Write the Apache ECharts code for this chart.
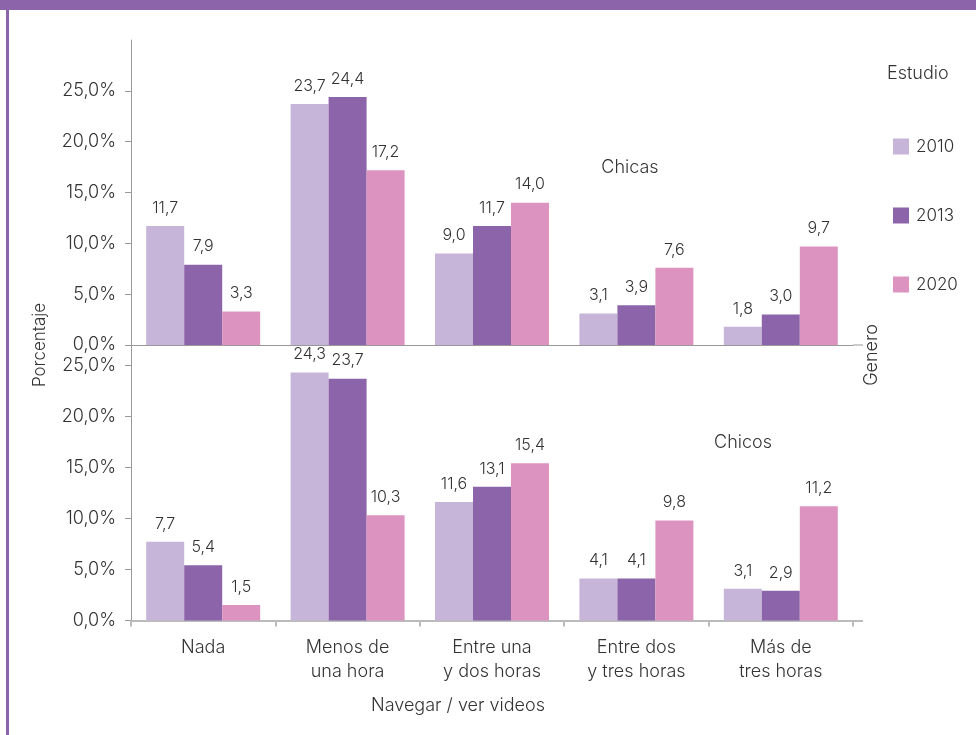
<!DOCTYPE html>
<html>
<head>
<meta charset="utf-8">
<script src="https://cdn.jsdelivr.net/npm/echarts@6/dist/echarts.min.js"></script>
<style>
html,body{margin:0;padding:0;background:#fff;}
#chart{width:976px;height:735px;}
</style>
</head>
<body>
<div id="chart"></div>
<script>
const categories = ['Nada', 'Menos de\nuna hora', 'Entre una\ny dos horas', 'Entre dos\ny tres horas', 'Más de\ntres horas'];
const years = ['2010', '2013', '2020'];
const chicas2010 = [11.7, 23.7, 9.0, 3.1, 1.8];
const chicas2013 = [7.9, 24.4, 11.7, 3.9, 3.0];
const chicas2020 = [3.3, 17.2, 14.0, 7.6, 9.7];
const chicos2010 = [7.7, 24.3, 11.6, 4.1, 3.1];
const chicos2013 = [5.4, 23.7, 13.1, 4.1, 2.9];
const chicos2020 = [1.5, 10.3, 15.4, 9.8, 11.2];
const yTicks = [0, 5, 10, 15, 20, 25];

const colors = ['#c7b5d9', '#8c64aa', '#dd93bf'];
const FONT = 'Inter';
const W = 300;
const TXT = '#333';

const chart = echarts.init(document.getElementById('chart'), null, {renderer: 'canvas'});

function fmt(v) { return v.toFixed(1).replace('.', ','); }

function barSeries(name, data, idx, color) {
  return {
    name: name, type: 'bar', data: data,
    xAxisIndex: idx, yAxisIndex: idx,
    barWidth: 38, barGap: '0%',
    itemStyle: {color: color},
    label: {
      show: true, position: 'top', distance: 10,
      fontFamily: FONT, fontWeight: W, fontSize: 16, color: TXT,
      formatter: p => fmt(p.value)
    }
  };
}

function yAxis(idx, max) {
  return {
    type: 'value', gridIndex: idx, min: 0, max: max, interval: 5,
    splitLine: {show: false},
    axisLine: {show: true, lineStyle: {color: '#999', width: 1}},
    axisTick: {show: true, length: 6, lineStyle: {color: '#999'}, customValues: yTicks},
    axisLabel: {
      fontFamily: FONT, fontWeight: W, fontSize: 18, color: TXT, margin: 15,
      customValues: yTicks,
      formatter: v => fmt(v) + '%'
    }
  };
}

const option = {
  backgroundColor: '#fff',
  animation: false,
  grid: [
    {left: 131, top: 40, width: 722, height: 305},
    {left: 131, top: 345, width: 722, height: 275.4}
  ],
  legend: {
    data: years,
    orient: 'vertical',
    left: 888, top: 133,
    itemWidth: 16, itemHeight: 16, itemGap: 52,
    icon: 'rect',
    textStyle: {fontFamily: FONT, fontWeight: W, fontSize: 17, color: TXT, padding: [0, 0, 0, 2]},
    selectedMode: false
  },
  xAxis: [
    {
      type: 'category', gridIndex: 0, data: categories,
      axisLine: {show: true, lineStyle: {color: '#999', width: 1}},
      axisTick: {show: false}, axisLabel: {show: false}
    },
    {
      type: 'category', gridIndex: 1, data: categories,
      axisLine: {show: true, lineStyle: {color: '#bbb', width: 2}},
      axisTick: {show: true, length: 6, lineStyle: {color: '#bbb', width: 2}},
      axisLabel: {fontFamily: FONT, fontWeight: W, fontSize: 18, color: TXT, margin: 15, lineHeight: 24}
    }
  ],
  yAxis: [yAxis(0, 30), yAxis(1, 27)],
  series: [
    barSeries(years[0], chicas2010, 0, colors[0]),
    barSeries(years[1], chicas2013, 0, colors[1]),
    barSeries(years[2], chicas2020, 0, colors[2]),
    barSeries(years[0], chicos2010, 1, colors[0]),
    barSeries(years[1], chicos2013, 1, colors[1]),
    barSeries(years[2], chicos2020, 1, colors[2])
  ],
  graphic: [
    {type: 'rect', shape: {x: 0, y: 0, width: 976, height: 10}, style: {fill: '#8c64aa'}},
    {type: 'rect', shape: {x: 6, y: 0, width: 3, height: 735}, style: {fill: '#8c64aa'}},
    {type: 'line', shape: {x1: 853, y1: 345, x2: 863, y2: 345}, style: {stroke: '#999', lineWidth: 1}},
    {type: 'line', shape: {x1: 853, y1: 621, x2: 863, y2: 621}, style: {stroke: '#bbb', lineWidth: 2}},
    {type: 'text', x: 887, y: 74, style: {text: 'Estudio', font: W + ' 18px ' + FONT, fill: TXT, verticalAlign: 'middle'}},
    {type: 'text', x: 40, y: 345, rotation: Math.PI / 2, style: {text: 'Porcentaje', font: W + ' 17px ' + FONT, fill: TXT, align: 'center', verticalAlign: 'middle'}},
    {type: 'text', x: 872, y: 355, rotation: Math.PI / 2, style: {text: 'Genero', font: W + ' 18px ' + FONT, fill: TXT, align: 'center', verticalAlign: 'middle'}},
    {type: 'text', x: 630, y: 168, style: {text: 'Chicas', font: W + ' 18px ' + FONT, fill: TXT, align: 'center', verticalAlign: 'middle'}},
    {type: 'text', x: 743, y: 443, style: {text: 'Chicos', font: W + ' 18px ' + FONT, fill: TXT, align: 'center', verticalAlign: 'middle'}},
    {type: 'text', x: 458, y: 706, style: {text: 'Navegar / ver videos', font: W + ' 18px ' + FONT, fill: TXT, align: 'center', verticalAlign: 'middle'}}
  ]
};
chart.setOption(option);
</script>
</body>
</html>
